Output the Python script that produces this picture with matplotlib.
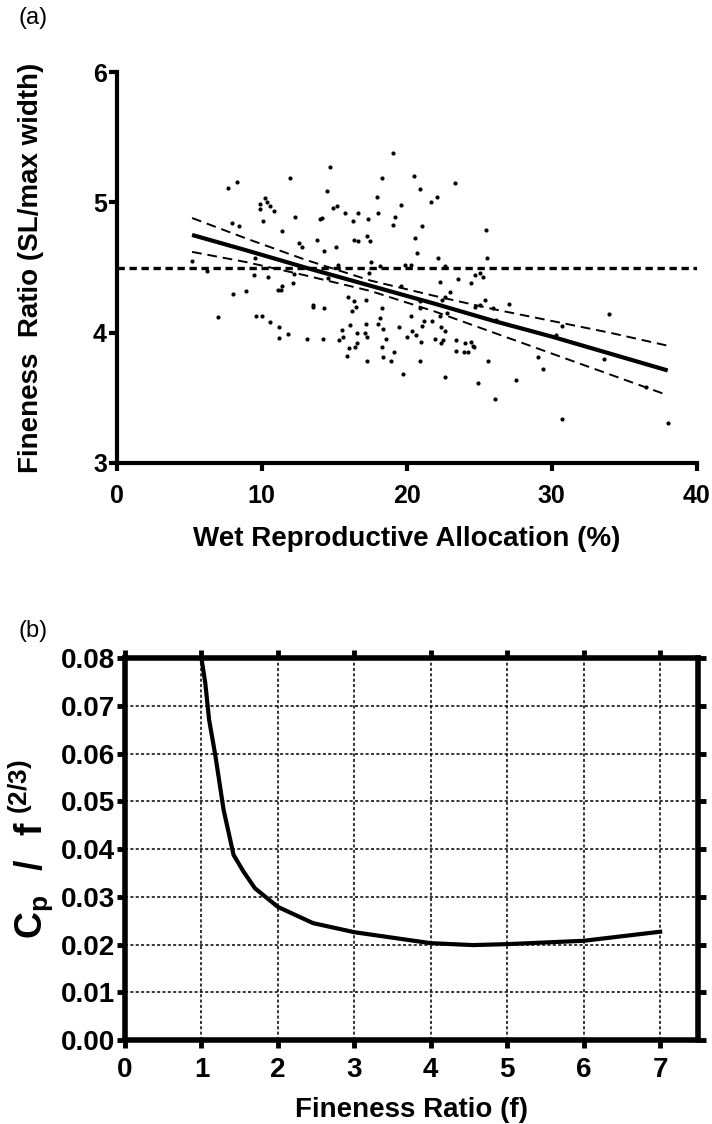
import numpy as np
import matplotlib
matplotlib.use('Agg')
import matplotlib.pyplot as plt

plt.rcParams['font.family'] = ['Liberation Sans', 'DejaVu Sans']
plt.rcParams['mathtext.fontset'] = 'custom'
plt.rcParams['mathtext.rm'] = 'Liberation Sans'
plt.rcParams['mathtext.bf'] = 'Liberation Sans:bold'

# ── Panel (a) data: wet reproductive allocation vs fineness ratio ──────────
wra = [7.69, 8.29, 7.92, 8.41, 5.22, 6.21, 7.99, 8.89, 7.00,
       19.03, 14.74, 11.92, 18.32, 14.53, 17.95, 10.26, 9.89, 10.35, 10.60,
       9.86, 10.88, 15.20, 14.94, 15.75, 16.65, 18.04, 12.29, 19.22, 10.07,
       14.14, 14.00, 16.28, 17.30, 19.08, 11.37, 17.23, 17.46, 13.84, 16.40,
       16.65, 12.54, 12.77, 15.13, 14.30, 9.56, 17.51, 17.39, 15.27, 18.15,
       9.45, 10.42, 12.22, 12.17, 14.55, 11.41, 11.11, 11.30, 15.98, 16.38,
       16.49, 16.24, 17.16, 13.51, 13.56, 14.27, 18.32, 9.61, 10.03, 10.56,
       18.13, 18.02, 16.10, 17.19, 11.16, 18.34, 15.57, 16.58, 17.12, 17.28,
       15.59, 11.80, 11.18, 13.10, 14.21, 15.34, 18.55, 16.54, 16.45, 16.05,
       18.29, 19.15, 15.91, 18.36, 17.26, 18.92,
       20.49, 23.33, 20.95, 22.11, 21.71, 19.59, 21.07, 25.48, 20.58, 20.74,
       22.13, 25.55, 19.89, 20.30, 22.64, 25.04, 24.74, 25.29, 23.56, 22.31,
       24.46, 19.61, 22.96, 22.61, 22.41, 20.95, 25.39, 24.72, 25.09, 25.92,
       27.03, 20.93, 22.75, 20.28, 22.27, 21.16, 21.74, 26.17, 21.04, 19.47,
       22.36, 22.64, 20.37, 20.67, 20.05, 21.97, 22.48, 22.36, 21.00, 23.42,
       24.05, 24.46, 24.55, 24.67, 23.38, 23.98, 24.21, 20.95, 25.59, 29.06,
       19.75, 22.64, 24.92, 27.56, 26.06,
       33.95, 30.72, 30.28, 33.58, 29.43, 36.52, 30.72, 38.04]
fineness = [5.11, 5.16, 4.84, 4.82, 4.55, 4.47, 4.30, 4.32, 4.12,
            5.38, 5.27, 5.19, 5.19, 5.09, 5.04, 5.03, 4.99, 5.00, 4.97,
            4.95, 4.93, 4.97, 4.96, 4.92, 4.92, 4.92, 4.89, 4.89, 4.86,
            4.88, 4.87, 4.86, 4.87, 4.83, 4.78, 4.74, 4.70, 4.71, 4.71,
            4.70, 4.69, 4.66, 4.66, 4.63, 4.57, 4.54, 4.46, 4.52, 4.51,
            4.44, 4.43, 4.45, 4.38, 4.42, 4.36, 4.33, 4.33, 4.27, 4.24,
            4.20, 4.17, 4.25, 4.21, 4.20, 4.19, 4.19, 4.13, 4.13, 4.08,
            4.11, 4.07, 4.06, 4.07, 4.04, 4.03, 4.02, 4.00, 4.00, 3.97,
            3.97, 3.99, 3.96, 3.95, 3.95, 3.94, 3.95, 3.92, 3.89, 3.88,
            3.89, 3.85, 3.82, 3.81, 3.78, 3.78,
            5.20, 5.15, 5.10, 5.04, 5.00, 4.98, 4.82, 4.79, 4.73, 4.61,
            4.57, 4.57, 4.52, 4.52, 4.51, 4.46, 4.44, 4.43, 4.41, 4.39,
            4.38, 4.36, 4.31, 4.27, 4.25, 4.24, 4.25, 4.20, 4.21, 4.19,
            4.22, 4.19, 4.15, 4.13, 4.13, 4.09, 4.09, 4.10, 4.05, 4.04,
            4.04, 4.01, 4.01, 3.98, 3.97, 3.95, 3.94, 3.92, 3.93, 3.94,
            3.92, 3.93, 3.90, 3.89, 3.86, 3.85, 3.85, 3.78, 3.78, 3.81,
            3.68, 3.66, 3.61, 3.64, 3.49,
            4.14, 4.05, 3.98, 3.80, 3.72, 3.58, 3.34, 3.31]

# regression line and 95% confidence band
fit_x = [5.2, 9, 13, 17.5, 22, 26, 30, 34, 38]
fit_y = [4.75, 4.63, 4.50, 4.36, 4.22, 4.09, 3.97, 3.84, 3.71]
ci_hi = [4.88, 4.72, 4.56, 4.40, 4.28, 4.18, 4.09, 4.00, 3.90]
ci_lo = [4.62, 4.54, 4.44, 4.32, 4.16, 4.00, 3.84, 3.68, 3.52]
ref_level = 4.5

# ── Panel (b) data: pressure drag vs fineness ratio ───────────────────────
f_ratio = [1.0, 1.05, 1.1, 1.18, 1.29, 1.42, 1.55, 1.7, 2.0, 2.46, 3.0,
           4.0, 4.55, 5.0, 6.0, 7.0]
cp_f = [0.080, 0.0748, 0.0671, 0.0598, 0.0482, 0.0388, 0.0353, 0.0318,
        0.0279, 0.0245, 0.0226, 0.0203, 0.0199, 0.0201, 0.0208, 0.0227]

fig = plt.figure(figsize=(7.12, 11.24), dpi=100)
fig.patch.set_facecolor('white')

# ── (a) ────────────────────────────────────────────────────────────────────
ax1 = fig.add_axes([0.1639, 0.5881, 0.8146, 0.3478])
ax1.scatter(wra, fineness, s=9, color='black', zorder=3, linewidths=0)
ax1.plot(fit_x, fit_y, color='black', lw=3, zorder=4, solid_capstyle='butt')
ax1.plot(fit_x, ci_hi, color='black', lw=1.4, ls=(0, (5, 3)), zorder=4)
ax1.plot(fit_x, ci_lo, color='black', lw=1.4, ls=(0, (5, 3)), zorder=4)
ax1.axhline(ref_level, color='black', lw=2.4, ls=(0, (2.2, 1.4)), zorder=2)
ax1.set_xlim(0, 40)
ax1.set_ylim(3, 6)
ax1.set_xticks([0, 10, 20, 30, 40])
ax1.set_yticks([3, 4, 5, 6])
for s in ['top', 'right']:
    ax1.spines[s].set_visible(False)
for s in ['left', 'bottom']:
    ax1.spines[s].set_linewidth(3)
ax1.tick_params(direction='out', length=6, width=3, labelsize=18)
ax1.tick_params(axis='y', pad=1)
ax1.tick_params(axis='x', pad=9)
for lab in ax1.get_xticklabels() + ax1.get_yticklabels():
    lab.set_fontweight('bold')
ax1.set_xlabel('Wet Reproductive Allocation (%)', fontsize=20, fontweight='bold')
ax1.set_ylabel('Fineness  Ratio (SL/max width)', fontsize=20, fontweight='bold')
ax1.xaxis.set_label_coords(0.5, -0.162)
ax1.yaxis.set_label_coords(-0.126, 0.5)
fig.text(0.026, 0.984, '(a)', fontsize=17, ha='left', va='center')

# ── (b) ────────────────────────────────────────────────────────────────────
ax2 = fig.add_axes([0.1756, 0.0747, 0.8052, 0.3396])
ax2.plot(f_ratio, cp_f, color='black', lw=3, zorder=4)
ax2.set_xlim(0, 7.5)
ax2.set_ylim(0, 0.08)
ax2.set_xticks(range(0, 8))
ax2.set_yticks(np.arange(0, 0.081, 0.01))
ax2.set_yticklabels([f'{v:.2f}' for v in np.arange(0, 0.081, 0.01)])
ax2.grid(True, color='black', lw=1.1, ls=(0, (2, 1.5)))
ax2.set_axisbelow(True)
for s in ax2.spines.values():
    s.set_linewidth(4)
ax2.tick_params(direction='out', length=6, width=3.5, labelsize=20,
                top=True, right=True, labeltop=False, labelright=False)
ax2.tick_params(axis='y', pad=1)
ax2.tick_params(axis='x', pad=6)
for lab in ax2.get_xticklabels() + ax2.get_yticklabels():
    lab.set_fontweight('bold')
ax2.set_xlabel('Fineness Ratio (f)', fontsize=20, fontweight='bold')
ax2.set_ylabel(r'$\mathbf{C_p\ \ /\ \ f^{\ (2/3)}}$', fontsize=27,
               fontweight='bold')
ax2.xaxis.set_label_coords(0.5, -0.15)
ax2.yaxis.set_label_coords(-0.122, 0.5)
fig.text(0.026, 0.439, '(b)', fontsize=17, ha='left', va='center')

fig.savefig('out.png', dpi=100, facecolor='white')
